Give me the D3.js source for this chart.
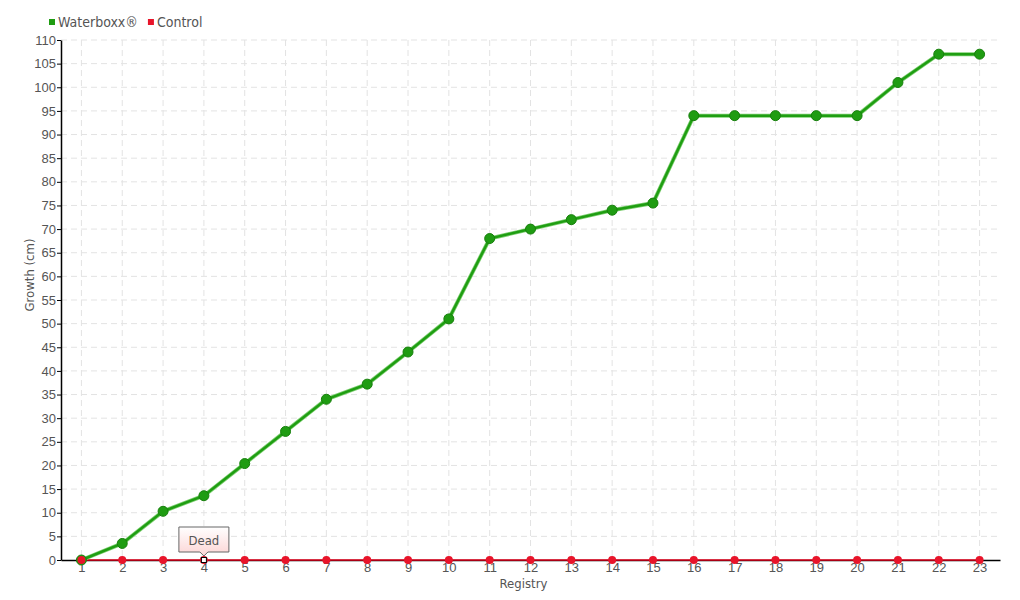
<!DOCTYPE html>
<html>
<head>
<meta charset="utf-8">
<script src="https://cdn.jsdelivr.net/npm/d3@7"></script>
<style>
  body { margin: 0; background: #fff; }
  svg { font-family: "DejaVu Sans Condensed", "DejaVu Sans", sans-serif; }
</style>
</head>
<body>
<svg width="1020" height="600"></svg>
<script>
// categorias do eixo X
const registry = d3.range(1, 24).map(String);

// séries
const waterboxx = [0, 3.5, 10.3, 13.6, 20.4, 27.2, 34, 37.2, 44, 51, 68, 70, 72, 74, 75.5, 94, 94, 94, 94, 94, 101, 107, 107];
const control = [0, 0, 0, 0, 0, 0, 0, 0, 0, 0, 0, 0, 0, 0, 0, 0, 0, 0, 0, 0, 0, 0, 0];
const deadIndex = 3;
const deadLabel = "Dead";

const yTicks = d3.range(0, 111, 5);

const svg = d3.select("svg");
const margens = { left: 61, right: 20, top: 40, bottom: 40 };
const width = 1020, height = 600;
const innerWidth = width - margens.left - margens.right;
const innerHeight = height - margens.top - margens.bottom;

const group = svg.append("g")
    .attr("transform", `translate(${margens.left},${margens.top})`);

const x = d3.scalePoint()
    .domain(registry)
    .range([0, innerWidth])
    .padding(0.5);

const y = d3.scaleLinear()
    .domain([0, 110])
    .range([innerHeight, 0]);

// grade tracejada
group.append("g")
    .selectAll("line")
    .data(yTicks.filter(d => d > 0))
    .join("line")
    .attr("x1", 0).attr("x2", innerWidth)
    .attr("y1", d => y(d)).attr("y2", d => y(d))
    .attr("stroke", "#e3e3e3").attr("stroke-dasharray", "6,4");

group.append("g")
    .selectAll("line")
    .data(registry)
    .join("line")
    .attr("x1", d => x(d)).attr("x2", d => x(d))
    .attr("y1", 0).attr("y2", innerHeight)
    .attr("stroke", "#e3e3e3").attr("stroke-dasharray", "6,4");

// eixos
const xAxis = group.append("g")
    .attr("transform", `translate(0,${innerHeight})`)
    .call(d3.axisBottom(x).tickSize(3).tickSizeOuter(0));
xAxis.select(".domain").attr("stroke", "#000").attr("stroke-width", 1.5);
xAxis.selectAll(".tick line").attr("stroke", "#999");
xAxis.selectAll("text").attr("fill", "#555").attr("font-size", 13).attr("y", 3).attr("dy", "0.71em");

const yAxis = group.append("g")
    .call(d3.axisLeft(y).tickValues(yTicks).tickSize(4).tickSizeOuter(0));
yAxis.select(".domain").attr("stroke", "#000").attr("stroke-width", 1.5);
yAxis.selectAll(".tick line").attr("stroke", "#000");
yAxis.selectAll("text").attr("fill", "#555").attr("font-size", 13).attr("x", -5);

group.append("text")
    .attr("text-anchor", "middle")
    .attr("x", innerWidth / 2 - 7)
    .attr("y", innerHeight + 28)
    .attr("fill", "#555").attr("font-size", 13)
    .text("Registry");

group.append("text")
    .attr("text-anchor", "middle")
    .attr("transform", `translate(-27,${innerHeight / 2 - 25}) rotate(-90)`)
    .attr("fill", "#555").attr("font-size", 13)
    .text("Growth (cm)");

// linha Control
const line = d3.line()
    .x((d, i) => x(registry[i]))
    .y(d => y(d));

group.append("path")
    .datum(control)
    .attr("fill", "none")
    .attr("stroke", "#e0001b")
    .attr("stroke-width", 1.5)
    .attr("d", line);

group.selectAll("circle.control")
    .data(control)
    .join("circle")
    .attr("class", "control")
    .attr("cx", (d, i) => x(registry[i]))
    .attr("cy", d => y(d))
    .attr("r", 4)
    .attr("fill", "#e8142a");

// linha Waterboxx
group.append("path")
    .datum(waterboxx)
    .attr("fill", "none")
    .attr("stroke", "#7fcf73")
    .attr("stroke-width", 4)
    .attr("d", line);
group.append("path")
    .datum(waterboxx)
    .attr("fill", "none")
    .attr("stroke", "#1f9e12")
    .attr("stroke-width", 2.5)
    .attr("d", line);

group.selectAll("circle.wb")
    .data(waterboxx)
    .join("circle")
    .attr("class", "wb")
    .attr("cx", (d, i) => x(registry[i]))
    .attr("cy", d => y(d))
    .attr("r", 5)
    .attr("fill", "#1f9c12")
    .attr("stroke", "#17800c")
    .attr("stroke-width", 1);

// primeiro ponto de Control fica por cima
group.append("circle")
    .attr("cx", x(registry[0]))
    .attr("cy", y(control[0]))
    .attr("r", 4)
    .attr("fill", "#e8142a");

// marcador "Dead"
const dx = x(registry[deadIndex]), dy = y(control[deadIndex]);
group.append("rect")
    .attr("x", dx - 2.5).attr("y", dy - 2.5)
    .attr("width", 5).attr("height", 5)
    .attr("fill", "#fff").attr("stroke", "#000").attr("stroke-width", 1);

const defs = svg.append("defs");
const grad = defs.append("linearGradient")
    .attr("id", "tipGrad").attr("x1", 0).attr("x2", 0).attr("y1", 0).attr("y2", 1);
grad.append("stop").attr("offset", "0%").attr("stop-color", "#ffffff");
grad.append("stop").attr("offset", "100%").attr("stop-color", "#fcd4d4");

const tw = 50, th = 25, tb = dy - 8;
group.append("path")
    .attr("d", `M${dx - tw / 2},${tb - th} H${dx + tw / 2} V${tb} H${dx + 4} L${dx},${tb + 4} L${dx - 4},${tb} H${dx - tw / 2} Z`)
    .attr("fill", "url(#tipGrad)")
    .attr("stroke", "#666")
    .attr("stroke-width", 1);
group.append("text")
    .attr("x", dx).attr("y", tb - th / 2 + 5)
    .attr("text-anchor", "middle")
    .attr("fill", "#555").attr("font-size", 13)
    .text(deadLabel);

// legenda
const legend = svg.append("g").attr("transform", "translate(49,22)");
const items = [["Waterboxx®", "#1f9c12"], ["Control", "#e8142a"]];
let lx = 0;
items.forEach(([name, color]) => {
    const g = legend.append("g").attr("transform", `translate(${lx},0)`);
    g.append("rect").attr("x", 0).attr("y", -3).attr("width", 6).attr("height", 6).attr("fill", color);
    const t = g.append("text").attr("x", 9).attr("y", 5)
        .attr("fill", "#555").attr("font-size", 14).text(name);
    lx += 9 + t.node().getComputedTextLength() + 10;
});
</script>
</body>
</html>
